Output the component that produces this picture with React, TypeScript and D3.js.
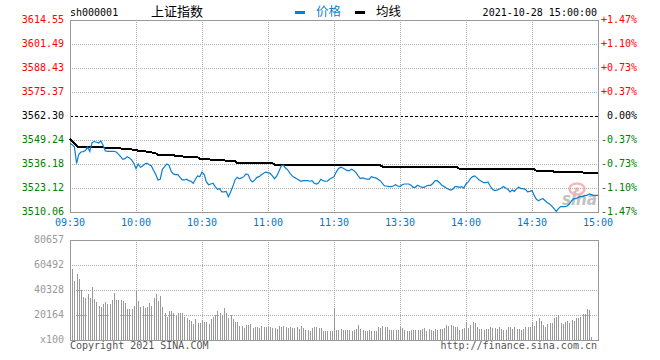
import React from 'react';
import * as d3 from 'd3';

// minute index 0..240 (09:30-11:30, 13:01-15:00)
const timeLabels = ['09:30', '10:00', '10:30', '11:00', '11:30', '13:30', '14:00', '14:30', '15:00'];
const timeIndex = [0, 30, 60, 90, 120, 150, 180, 210, 240];

const preClose = 3562.3;
const priceTicks = [3614.55, 3601.49, 3588.43, 3575.37, 3562.3, 3549.24, 3536.18, 3523.12, 3510.06];
const priceLabels = ['3614.55', '3601.49', '3588.43', '3575.37', '3562.30', '3549.24', '3536.18', '3523.12', '3510.06'];
const pctLabels = ['+1.47%', '+1.10%', '+0.73%', '+0.37%', '0.00%', '-0.37%', '-0.73%', '-1.10%', '-1.47%'];

const volTicks = [80657, 60492, 40328, 20164, 0];
const volLabels = ['80657', '60492', '40328', '20164', 'x100'];

const price = [
  3547.4, 3546.7, 3545.6, 3536.5, 3541.5, 3542.7, 3542.9, 3543.5, 3545.5, 3543.0,
  3547.8, 3548.4, 3548.0, 3547.6, 3548.7, 3546.5, 3543.4, 3543.1, 3543.1, 3543.1,
  3543.1, 3542.7, 3541.6, 3540.2, 3538.7, 3539.1, 3540.2, 3539.5, 3538.4, 3536.6,
  3533.7, 3536.2, 3534.4, 3535.1, 3536.2, 3536.6, 3535.8, 3535.1, 3532.6, 3530.4,
  3527.5, 3527.9, 3533.3, 3534.7, 3536.2, 3535.5, 3532.2, 3530.8, 3530.4, 3530.4,
  3528.9, 3527.5, 3527.5, 3527.9, 3527.1, 3526.8, 3525.7, 3527.9, 3529.7, 3529.3,
  3531.8, 3530.4, 3526.4, 3524.9, 3525.3, 3525.7, 3523.9, 3522.4, 3522.8, 3521.0,
  3521.0, 3521.3, 3518.4, 3521.0, 3523.9, 3527.5, 3528.9, 3528.2, 3528.6, 3529.3,
  3530.8, 3530.4, 3527.5, 3526.4, 3527.5, 3528.9, 3529.3, 3530.4, 3531.1, 3531.8,
  3531.5, 3531.1, 3529.7, 3528.2, 3529.7, 3532.2, 3535.1, 3535.5, 3534.0, 3532.9,
  3531.1, 3529.7, 3528.9, 3528.2, 3527.5, 3526.8, 3527.1, 3527.1, 3527.1, 3526.8,
  3527.1, 3525.7, 3525.3, 3526.0, 3527.9, 3527.1, 3526.8, 3526.8, 3527.9, 3528.6,
  3529.3, 3531.8, 3533.6, 3534.4, 3534.0, 3533.3, 3532.6, 3532.6, 3533.3, 3532.6,
  3531.5, 3529.7, 3528.2, 3528.6, 3528.2, 3527.9, 3527.9, 3529.3, 3528.9, 3528.6,
  3527.9, 3527.1, 3525.7, 3524.2, 3524.2, 3523.9, 3523.9, 3524.2, 3524.9, 3524.2,
  3523.9, 3524.9, 3525.3, 3525.3, 3525.3, 3524.6, 3523.5, 3523.5, 3524.6, 3523.9,
  3523.5, 3523.5, 3524.2, 3524.6, 3524.6, 3525.7, 3527.1, 3527.1, 3526.0, 3524.6,
  3523.9, 3523.1, 3522.4, 3522.0, 3522.4, 3523.9, 3523.9, 3523.5, 3523.9, 3523.1,
  3525.3, 3526.4, 3528.2, 3529.3, 3529.7, 3528.6, 3527.5, 3526.8, 3526.0, 3526.0,
  3526.4, 3524.2, 3522.4, 3521.7, 3522.0, 3522.4, 3523.1, 3523.9, 3523.1, 3522.4,
  3521.0, 3522.0, 3521.3, 3522.8, 3523.5, 3522.8, 3522.8, 3522.4, 3521.0, 3521.3,
  3521.7, 3519.1, 3517.0, 3516.2, 3517.0, 3517.3, 3516.2, 3515.1, 3514.4, 3513.3,
  3511.9, 3510.4, 3511.9, 3513.0, 3513.0, 3513.0, 3513.3, 3514.4, 3516.2, 3517.3,
  3517.3, 3518.0, 3518.4, 3518.4, 3519.1, 3519.1, 3519.9, 3519.5, 3519.1, 3519.1,
  3519.1,
];

const avgPrice = [
  3549.8, 3548.6, 3547.3, 3546.2, 3545.3, 3545.3, 3545.3, 3545.3, 3545.3, 3545.3,
  3545.3, 3545.3, 3545.3, 3545.3, 3545.3, 3545.3, 3545.0, 3545.0, 3545.0, 3545.0,
  3544.7, 3544.7, 3544.7, 3544.7, 3544.2, 3544.2, 3544.2, 3544.2, 3544.2, 3543.8,
  3543.8, 3543.4, 3543.4, 3543.4, 3543.4, 3542.7, 3542.7, 3542.7, 3542.0, 3542.0,
  3541.2, 3541.2, 3541.2, 3541.2, 3541.2, 3541.2, 3541.2, 3541.2, 3540.5, 3540.5,
  3540.5, 3540.5, 3539.8, 3539.8, 3539.8, 3539.8, 3539.8, 3539.8, 3539.8, 3539.0,
  3539.0, 3539.0, 3539.0, 3539.0, 3538.4, 3538.4, 3538.4, 3538.4, 3538.4, 3538.4,
  3538.4, 3537.7, 3537.7, 3537.7, 3537.7, 3537.7, 3536.6, 3536.6, 3536.6, 3536.6,
  3536.6, 3536.6, 3536.6, 3536.6, 3536.6, 3536.6, 3536.6, 3536.6, 3536.6, 3536.6,
  3536.6, 3536.6, 3536.6, 3535.9, 3535.9, 3535.9, 3535.9, 3535.9, 3535.9, 3535.9,
  3535.9, 3535.9, 3535.9, 3535.9, 3535.9, 3535.9, 3535.9, 3535.9, 3535.9, 3535.9,
  3535.9, 3535.9, 3535.5, 3535.5, 3535.5, 3535.5, 3535.5, 3535.5, 3535.5, 3535.5,
  3535.5, 3535.5, 3535.5, 3535.5, 3535.5, 3535.5, 3535.5, 3535.5, 3535.5, 3535.5,
  3535.5, 3535.5, 3535.5, 3535.5, 3535.5, 3535.5, 3535.5, 3535.5, 3535.5, 3535.5,
  3535.5, 3535.5, 3534.8, 3534.8, 3534.8, 3534.8, 3534.8, 3534.8, 3534.8, 3534.8,
  3534.8, 3534.8, 3534.8, 3534.8, 3534.8, 3534.8, 3534.8, 3534.8, 3534.8, 3534.8,
  3534.4, 3534.4, 3534.4, 3534.4, 3534.4, 3534.4, 3534.4, 3534.4, 3534.4, 3534.4,
  3534.4, 3534.4, 3534.4, 3534.4, 3534.4, 3534.4, 3534.4, 3533.6, 3533.6, 3533.6,
  3533.6, 3533.6, 3533.6, 3533.6, 3533.6, 3533.6, 3533.6, 3533.6, 3533.6, 3533.6,
  3533.6, 3533.6, 3533.6, 3533.6, 3533.6, 3533.6, 3533.6, 3533.6, 3533.3, 3533.3,
  3533.3, 3533.3, 3533.3, 3533.3, 3533.3, 3533.3, 3533.3, 3533.3, 3533.3, 3533.3,
  3533.3, 3533.3, 3532.5, 3532.5, 3532.5, 3532.5, 3532.5, 3532.5, 3532.5, 3532.5,
  3532.0, 3532.0, 3532.0, 3532.0, 3532.0, 3532.0, 3531.6, 3531.6, 3531.6, 3531.6,
  3531.6, 3531.6, 3531.6, 3531.6, 3531.1, 3531.1, 3531.1, 3531.1, 3531.1, 3531.1,
  3531.1,
];

// volume, in units of 100 lots
const volume = [
  80657, 57500, 47300, 53500, 49500, 40600, 35000, 33600, 37400, 33600,
  43000, 33100, 30900, 27700, 26900, 29300, 30900, 28800, 29300, 32500,
  38200, 32500, 32500, 32500, 31500, 29600, 25300, 24700, 25300, 27700,
  40300, 31700, 26600, 27700, 25800, 26600, 30100, 27400, 33600, 37400,
  31700, 35200, 26900, 21800, 18800, 23700, 23700, 21800, 19100, 22000,
  22000, 22000, 18800, 17700, 16400, 15600, 13200, 17200, 13700, 13700,
  16100, 14800, 14800, 13200, 17200, 18800, 19900, 23700, 22000, 19900,
  26100, 22000, 18000, 20200, 17200, 14800, 14800, 11600, 11600, 9900,
  12400, 12400, 13200, 9900, 10800, 10800, 9900, 11600, 10800, 10800,
  10800, 10200, 9900, 9900, 9100, 11600, 10800, 11600, 10800, 9900,
  10800, 9900, 9900, 10800, 9100, 11600, 9900, 8300, 8300, 7500,
  9900, 10800, 10800, 9900, 9900, 7500, 7500, 7500, 7500, 7500,
  25300, 8300, 8300, 9100, 8300, 8300, 8300, 8300, 7500, 8300,
  9100, 12400, 9100, 8300, 7500, 7500, 8300, 7500, 7500, 7500,
  10800, 9900, 11600, 10800, 10800, 8300, 8300, 8300, 8300, 8300,
  10800, 9900, 8300, 7500, 7500, 8300, 8300, 8300, 8300, 8300,
  9100, 9900, 7500, 9100, 8300, 7500, 9100, 8300, 9100, 9100,
  9900, 12400, 11600, 12400, 11600, 10800, 10800, 8300, 9100, 9900,
  14800, 9900, 12400, 14800, 14000, 10800, 9100, 9100, 8300, 9100,
  9100, 10800, 9900, 9900, 9100, 10800, 9100, 8300, 8300, 10800,
  10800, 9100, 10800, 9100, 9100, 8300, 9100, 10800, 10800, 10800,
  14800, 11600, 15600, 18000, 15600, 12400, 10800, 13200, 14000, 14000,
  18000, 18800, 20400, 14000, 13200, 14800, 15600, 14000, 16400, 15600,
  18000, 18000, 18800, 21200, 21200, 25300, 24500, 2700, 0, 0,
  0,
];

const MONO = '"DejaVu Sans Mono", "Liberation Mono", monospace';
const CJK = '"Noto Sans CJK SC", sans-serif';
const GRID = '#aaa';
const BORDER = '#999';
const BLUE = '#0a7fd2';

export default function App() {
  const left = 70;
  const right = 598;
  const x = d3.scaleLinear().domain([0, 240]).range([left, right]);
  const yP = d3.scaleLinear().domain([3510.06, 3614.55]).range([212, 20]);
  const yV = d3.scaleLinear().domain([0, 80657]).range([340, 240]);

  const line = d3.line<number>().x((_, i) => x(i)).y((d) => yP(d));
  const snap = (v: number) => Math.round(v) + 0.5;

  const labelColor = (v: number) => (v > preClose + 0.001 ? '#f00' : v < preClose - 0.001 ? '#008000' : '#000');

  return (
    <svg width={660} height={360} style={{ position: 'absolute', left: 0, top: 0, background: '#fff' }}>
      {/* header */}
      <text x={70} y={13} fontFamily={MONO} fontSize={10} dominantBaseline="middle" fill="#000">sh000001</text>
      <text x={151} y={12.5} fontFamily={CJK} fontSize={13} dominantBaseline="middle" fill="#000">上证指数</text>
      <rect x={295} y={11} width={10} height={3} fill={BLUE} />
      <text x={316} y={12.5} fontFamily={CJK} fontSize={12.5} dominantBaseline="middle" fill={BLUE}>价格</text>
      <rect x={355} y={11} width={10} height={3} fill="#000" />
      <text x={376} y={12.5} fontFamily={CJK} fontSize={12.5} dominantBaseline="middle" fill="#000">均线</text>
      <text x={597} y={13} fontFamily={MONO} fontSize={10} textAnchor="end" dominantBaseline="middle" fill="#000">2021-10-28 15:00:00</text>

      {/* price grid */}
      <g shapeRendering="crispEdges">
        {priceTicks.slice(1, -1).map((v) =>
          v === preClose ? (
            <line key={v} x1={left} x2={right} y1={snap(yP(v))} y2={snap(yP(v))} stroke="#000" strokeDasharray="3,2" />
          ) : (
            <line key={v} x1={left} x2={right} y1={snap(yP(v))} y2={snap(yP(v))} stroke={GRID} strokeDasharray="1,1" />
          )
        )}
        {timeIndex.slice(1, -1).map((t) => (
          <line key={t} x1={snap(x(t))} x2={snap(x(t))} y1={20} y2={212} stroke={GRID} strokeDasharray="1,1" />
        ))}
        <rect x={left + 0.5} y={20.5} width={right - left} height={192} fill="none" stroke={BORDER} />
      </g>

      {/* price labels */}
      {priceTicks.map((v, i) => (
        <g key={v}>
          <text x={64} y={yP(v)} fontFamily={MONO} fontSize={10} textAnchor="end" dominantBaseline="middle" fill={labelColor(v)}>
            {priceLabels[i]}
          </text>
          <text x={637} y={yP(v)} fontFamily={MONO} fontSize={10} textAnchor="end" dominantBaseline="middle" fill={labelColor(v)}>
            {pctLabels[i]}
          </text>
        </g>
      ))}

      {/* sina watermark */}
      <g opacity={0.6}>
        <ellipse cx={577} cy={189} rx={7.5} ry={5.5} fill="none" stroke="#f08a8a" strokeWidth={2.5} />
        <circle cx={577} cy={189.5} r={2.2} fill="#f08a8a" />
        <text x={562} y={205} fontFamily="Verdana, 'DejaVu Sans', sans-serif" fontSize={17} fontWeight="bold" fontStyle="italic" fill="#999" textLength={35} lengthAdjust="spacingAndGlyphs">sina</text>
      </g>

      {/* lines */}
      <path d={line(avgPrice) || ''} fill="none" stroke="#000" strokeWidth={2} shapeRendering="crispEdges" />
      <path d={line(price) || ''} fill="none" stroke={BLUE} strokeWidth={1.2} />

      {/* time labels */}
      {timeLabels.map((t, i) => (
        <text key={t} x={x(timeIndex[i])} y={223} fontFamily={MONO} fontSize={10} textAnchor="middle" dominantBaseline="middle" fill="#0078d0">
          {t}
        </text>
      ))}

      {/* volume grid */}
      <g shapeRendering="crispEdges">
        {volTicks.slice(1, -1).map((v) => (
          <line key={v} x1={left} x2={right} y1={snap(yV(v))} y2={snap(yV(v))} stroke={GRID} strokeDasharray="1,1" />
        ))}
        {timeIndex.slice(1, -1).map((t) => (
          <line key={t} x1={snap(x(t))} x2={snap(x(t))} y1={240} y2={340} stroke={GRID} strokeDasharray="1,1" />
        ))}
        {volume.map((v, i) =>
          v > 0 ? (
            <rect key={i} x={Math.round(x(i))} y={yV(v)} width={1} height={340 - yV(v)} fill="#999" />
          ) : null
        )}
        <rect x={left + 0.5} y={240.5} width={right - left} height={100} fill="none" stroke={BORDER} />
      </g>
      {volTicks.map((v, i) => (
        <text key={v} x={64} y={yV(v)} fontFamily={MONO} fontSize={10} textAnchor="end" dominantBaseline="middle" fill="#999">
          {volLabels[i]}
        </text>
      ))}

      <text x={70} y={346} fontFamily={MONO} fontSize={10} dominantBaseline="middle" fill="#555">Copyright 2021 SINA.COM</text>
      <text x={597} y={346} fontFamily={MONO} fontSize={10} textAnchor="end" dominantBaseline="middle" fill="#555">http://finance.sina.com.cn</text>
    </svg>
  );
}
